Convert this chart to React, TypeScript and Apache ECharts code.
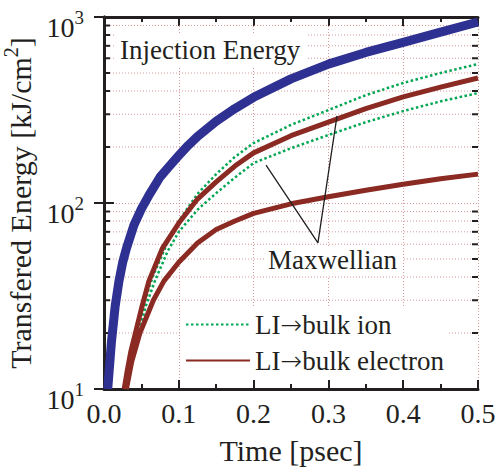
import React, { useEffect, useRef } from 'react';
import * as echarts from 'echarts';

// ---- data ----
const injTime = [0.005, 0.01, 0.015, 0.02, 0.025, 0.03, 0.04, 0.05, 0.06, 0.075, 0.0875, 0.1, 0.1125, 0.125, 0.15, 0.175, 0.2, 0.25, 0.3, 0.35, 0.4, 0.45, 0.5];
const injEnergy = [10, 18, 28, 38, 48, 57, 76, 93, 110, 138, 158, 180, 204, 228, 275, 322, 370, 465, 558, 645, 730, 830, 940];

const ionLITime = [0.03, 0.036, 0.044, 0.055, 0.065, 0.084, 0.1, 0.125, 0.15, 0.175, 0.2, 0.25, 0.3, 0.35, 0.4, 0.45, 0.5];
const ionLIEnergy = [10, 14, 20, 30, 40, 60, 80, 112, 143, 177, 210, 263, 316, 380, 442, 500, 559];

const ionMaxTime = [0.031, 0.037, 0.045, 0.056, 0.068, 0.085, 0.1, 0.125, 0.15, 0.175, 0.2, 0.25, 0.3, 0.35, 0.4, 0.45, 0.5];
const ionMaxEnergy = [10, 13.5, 19, 28, 38, 55, 70, 92, 113, 137, 164, 197, 232, 272, 312, 352, 390];

const elecLITime = [0.027, 0.031, 0.036, 0.042, 0.05, 0.06, 0.078, 0.1, 0.125, 0.15, 0.175, 0.2, 0.25, 0.3, 0.35, 0.4, 0.45, 0.5];
const elecLIEnergy = [10, 12.5, 16, 20, 27, 38, 57, 78, 105, 130, 158, 186, 230, 272, 322, 372, 420, 470];

const elecMaxTime = [0.03, 0.037, 0.048, 0.066, 0.08, 0.1, 0.125, 0.15, 0.175, 0.2, 0.25, 0.3, 0.35, 0.4, 0.45, 0.5];
const elecMaxEnergy = [10, 14, 20, 30, 38, 48, 61, 72, 80, 88, 99, 108, 117, 126, 135, 143];

const pointerTime = [0.2166, 0.286, 0.3115];
const pointerEnergy = [160, 61, 294];

const minorGridValues = [20, 30, 40, 50, 60, 70, 80, 90, 200, 300, 400, 500, 600, 700, 800, 900];

const seriesNames = ['LI\u2192bulk ion', 'LI\u2192bulk electron'];
const annotationTexts = ['Injection Energy', 'Maxwellian'];

const FONT = 'Liberation Serif';
const TEXT = '#231f20';
const GRID = 'rgba(196,120,120,0.75)';
const BLUE = '#2e3192';
const RED = '#8b2a22';
const GREEN = '#00a651';

const zip = (xs: number[], ys: number[]) => xs.map((x, i) => [x, ys[i]]);

export default function App() {
  const ref = useRef<HTMLDivElement>(null);

  useEffect(() => {
    if (!ref.current) return;
    const chart = echarts.init(ref.current, null, { renderer: 'svg' });

    const xAxisBase = {
      type: 'value',
      min: 0,
      max: 0.5,
      interval: 0.1,
      axisLine: { show: true, lineStyle: { color: TEXT, width: 3 } },
      axisTick: { show: true, inside: true, length: 9, lineStyle: { color: TEXT, width: 2 } },
      minorTick: { show: true, splitNumber: 2, length: 5, lineStyle: { color: TEXT, width: 2 } },
    };
    const yAxisBase = {
      type: 'log',
      logBase: 10,
      min: 10,
      max: 1000,
      splitNumber: 2,
      axisLine: { show: true, lineStyle: { color: TEXT, width: 3 } },
      axisTick: { show: true, inside: true, length: 10, lineStyle: { color: TEXT, width: 2 } },
    };

    const curve = (name: string, xs: number[], ys: number[], lineStyle: any) => ({
      name,
      type: 'line',
      z: 3,
      smooth: false,
      symbol: 'none',
      data: zip(xs, ys),
      lineStyle: { join: 'round', ...lineStyle },
      itemStyle: { color: lineStyle.color },
    });

    const option: any = {
      animation: false,
      backgroundColor: '#ffffff',
      textStyle: { fontFamily: FONT },
      grid: { left: 104, right: 20, top: 17, bottom: 80, outerBoundsMode: 'none' },
      xAxis: [
        {
          ...xAxisBase,
          position: 'bottom',
          name: 'Time [psec]',
          nameLocation: 'middle',
          nameGap: 46,
          nameTextStyle: { fontFamily: FONT, fontSize: 30, color: TEXT },
          axisLabel: {
            show: true,
            margin: 10,
            fontFamily: FONT,
            fontSize: 28,
            color: TEXT,
            formatter: (v: number) => v.toFixed(1),
          },
          splitLine: { show: true, lineStyle: { color: GRID, width: 1, type: [1, 2] } },
        },
        {
          ...xAxisBase,
          position: 'top',
          axisLabel: { show: false },
          splitLine: { show: false },
        },
      ],
      yAxis: [
        {
          ...yAxisBase,
          position: 'left',
          name: '{a|Transfered Energy [kJ/cm}{s|2}{a|]}',
          nameLocation: 'middle',
          nameGap: 56,
          nameTextStyle: {
            rich: {
              a: { fontFamily: FONT, fontSize: 30, color: TEXT, lineHeight: 30, padding: [10, 0, 0, 0] },
              s: { fontFamily: FONT, fontSize: 20, color: TEXT, lineHeight: 20, verticalAlign: 'top' },
            },
          },
          axisLabel: {
            show: true,
            margin: 20,
            padding: [10, 0, 0, 0],
            formatter: (v: number) => `{b|10}{s|${Math.round(Math.log10(v))}}`,
            rich: {
              b: { fontFamily: FONT, fontSize: 28, color: TEXT, lineHeight: 28, padding: [10, 0, 0, 0] },
              s: { fontFamily: FONT, fontSize: 19, color: TEXT, lineHeight: 19, verticalAlign: 'top' },
            },
          },
          splitLine: { show: true, lineStyle: { color: GRID, width: 1, type: [1, 2] } },
        },
        {
          ...yAxisBase,
          position: 'right',
          axisLabel: { show: false },
          splitLine: { show: false },
        },
      ],
      legend: {
        data: seriesNames,
        orient: 'vertical',
        left: 180,
        top: 306,
        itemWidth: 64,
        itemHeight: 14,
        itemGap: 9,
        padding: 5,
        backgroundColor: '#ffffff',
        selectedMode: false,
        itemStyle: { opacity: 0 },
        formatter: (name: string) => name.replace('\u2192', '{r|\u2192}'),
        textStyle: {
          fontFamily: FONT,
          fontSize: 27,
          color: TEXT,
          rich: {
            r: { fontFamily: 'DejaVu Sans', fontWeight: 200, fontSize: 26, color: TEXT },
          },
        },
      },
      graphic: [
        { type: 'rect', z: 2, shape: { x: 116, y: 33, width: 190, height: 34 }, style: { fill: '#ffffff' } },
        {
          type: 'text', z: 2, x: 120, y: 50,
          style: { text: annotationTexts[0], fontFamily: FONT, fontSize: 27, fill: TEXT, verticalAlign: 'middle', align: 'left' },
        },
        { type: 'rect', z: 2, shape: { x: 264, y: 246, width: 138, height: 30 }, style: { fill: '#ffffff' } },
        {
          type: 'text', z: 2, x: 268, y: 260,
          style: { text: annotationTexts[1], fontFamily: FONT, fontSize: 27, fill: TEXT, verticalAlign: 'middle', align: 'left' },
        },
      ],
      series: [
        {
          type: 'custom',
          z: 1,
          silent: true,
          xAxisIndex: 0,
          yAxisIndex: 0,
          data: minorGridValues.map((v) => [0, v]),
          renderItem: (params: any, api: any) => {
            const v = api.value(1);
            const y = api.coord([0, v])[1];
            const cs = params.coordSys;
            return {
              type: 'group',
              children: [
                { type: 'line', shape: { x1: cs.x, y1: y, x2: cs.x + cs.width, y2: y }, style: { stroke: GRID, lineWidth: 1, lineDash: [1, 2] } },
                { type: 'line', shape: { x1: cs.x, y1: y, x2: cs.x + 6, y2: y }, style: { stroke: TEXT, lineWidth: 2 } },
                { type: 'line', shape: { x1: cs.x + cs.width - 6, y1: y, x2: cs.x + cs.width, y2: y }, style: { stroke: TEXT, lineWidth: 2 } },
              ],
            };
          },
        },
        curve('Injection Energy', injTime, injEnergy, { color: BLUE, width: 9 }),
        curve(seriesNames[0], ionLITime, ionLIEnergy, { color: GREEN, width: 2.5, type: [2.5, 2.5] }),
        curve(seriesNames[0], ionMaxTime, ionMaxEnergy, { color: GREEN, width: 2.5, type: [2.5, 2.5] }),
        curve(seriesNames[1], elecLITime, elecLIEnergy, { color: RED, width: 5 }),
        curve(seriesNames[1], elecMaxTime, elecMaxEnergy, { color: RED, width: 5 }),
        {
          name: 'pointer',
          type: 'line',
          z: 3,
          silent: true,
          symbol: 'none',
          data: zip(pointerTime, pointerEnergy),
          lineStyle: { color: TEXT, width: 1.3 },
          itemStyle: { color: TEXT },
        },
      ],
    };

    chart.setOption(option);
    return () => chart.dispose();
  }, []);

  return (
    <div
      ref={ref}
      style={{ position: 'absolute', left: 0, top: 0, width: 498, height: 469 }}
    />
  );
}
